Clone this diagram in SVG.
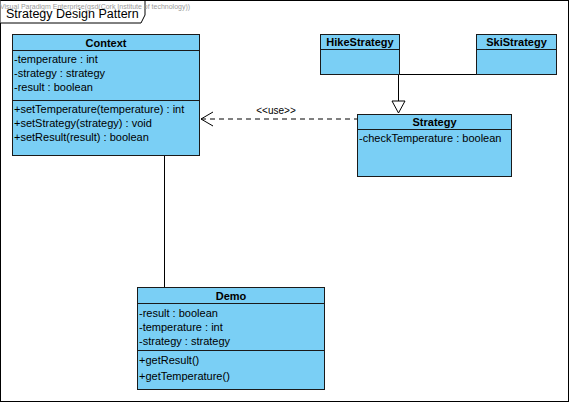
<svg xmlns="http://www.w3.org/2000/svg" width="570" height="403" viewBox="0 0 570 403">
<style>
.box{fill:#7ACFF5;stroke:#1a1a1a;stroke-width:1}
.sep{stroke:#1a1a1a;stroke-width:1}
text{font-family:"Liberation Sans",Arial,sans-serif;font-size:11px;fill:#000}
.hd{font-weight:bold;text-anchor:middle}
.ln{stroke:#000;stroke-width:1;fill:none}
</style>
<rect x="0.5" y="0.5" width="568" height="401" fill="#fff" stroke="#000"/>
<path d="M0.5,0.5 H145 V15 L141,23 H0.5" fill="#fff" stroke="#000"/>
<text x="0" y="9" style="font-size:7px;fill:#9a9a9a">Visual Paradigm Enterprise(gsd(Cork Institute of technology))</text>
<text x="6" y="18" style="font-size:12.5px">Strategy Design Pattern</text>

<g id="connectors">
<line class="ln" x1="164.5" y1="156" x2="164.5" y2="287"/>
<line class="ln" x1="398.5" y1="74" x2="398.5" y2="101"/>
<line class="ln" x1="398.5" y1="74.5" x2="476" y2="74.5"/>
<path d="M392,101 L405,101 L398.5,113 Z" fill="#fff" stroke="#000"/>
<line class="ln" x1="201" y1="119" x2="357" y2="119" stroke-dasharray="5,4"/>
<path class="ln" d="M213,112 L201,119 L213,126"/>
<text x="276" y="114" style="font-size:10px;text-anchor:middle">&lt;&lt;use&gt;&gt;</text>
</g>

<g id="Context">
<rect class="box" x="12.5" y="34.5" width="187" height="121"/>
<line class="sep" x1="12.5" y1="50.5" x2="199.5" y2="50.5"/>
<line class="sep" x1="12.5" y1="100.5" x2="199.5" y2="100.5"/>
<text class="hd" x="106" y="47">Context</text>
<text x="14" y="63">-temperature : int</text>
<text x="14" y="77">-strategy : strategy</text>
<text x="14" y="91">-result : boolean</text>
<text x="14" y="113">+setTemperature(temperature) : int</text>
<text x="14" y="127">+setStrategy(strategy) : void</text>
<text x="14" y="141">+setResult(result) : boolean</text>
</g>

<g id="HikeStrategy">
<rect class="box" x="320.5" y="34.5" width="79" height="40"/>
<line class="sep" x1="320.5" y1="49.5" x2="399.5" y2="49.5"/>
<text class="hd" x="360" y="46">HikeStrategy</text>
</g>

<g id="SkiStrategy">
<rect class="box" x="476.5" y="34.5" width="80" height="40"/>
<line class="sep" x1="476.5" y1="49.5" x2="556.5" y2="49.5"/>
<text class="hd" x="516.5" y="46">SkiStrategy</text>
</g>

<g id="Strategy">
<rect class="box" x="357.5" y="114.5" width="154" height="62"/>
<line class="sep" x1="357.5" y1="129.5" x2="511.5" y2="129.5"/>
<text class="hd" x="434.5" y="126">Strategy</text>
<text x="359" y="142">-checkTemperature : boolean</text>
</g>

<g id="Demo">
<rect class="box" x="137.5" y="287.5" width="187" height="102"/>
<line class="sep" x1="137.5" y1="303.5" x2="324.5" y2="303.5"/>
<line class="sep" x1="137.5" y1="350.5" x2="324.5" y2="350.5"/>
<text class="hd" x="231" y="300">Demo</text>
<text x="139" y="317">-result : boolean</text>
<text x="139" y="331">-temperature : int</text>
<text x="139" y="345">-strategy : strategy</text>
<text x="139" y="364">+getResult()</text>
<text x="139" y="380">+getTemperature()</text>
</g>
</svg>
